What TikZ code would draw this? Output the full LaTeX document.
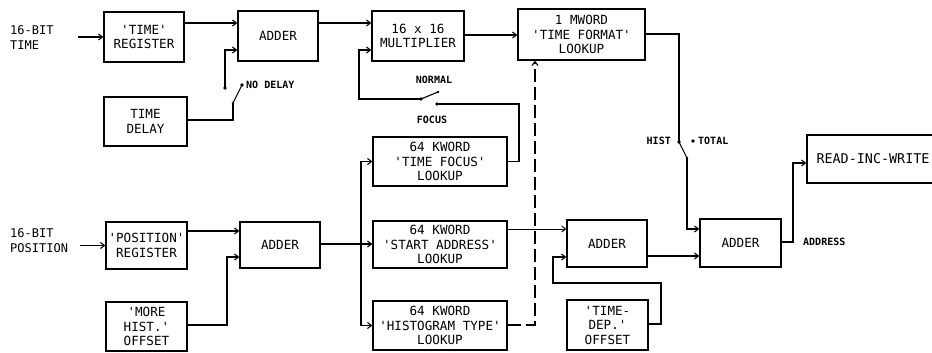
\documentclass[tikz,border=0pt]{standalone}
\usepackage{fontspec}
\newfontfamily\lett{DejaVu Sans Mono}
\usetikzlibrary{arrows.meta}
\begin{document}
\begin{tikzpicture}[x=1pt,y=-1pt,
  box/.style={draw, line width=1.3pt, inner sep=0pt, align=center, font=\lett\fontsize{12.6}{14.5}\selectfont},
  wire/.style={line width=1.1pt},
  arr/.style={wire, -{Straight Barb[length=4pt,width=6pt]}},
  lbl/.style={font=\lett\bfseries\fontsize{10}{12}\selectfont, inner sep=0pt},
  inlbl/.style={font=\lett\fontsize{12}{15}\selectfont, align=left, inner sep=0pt, anchor=west},
  dot/.style={circle, fill, inner sep=0pt, minimum size=3.6pt}]
\useasboundingbox (0,0) rectangle (932,353);

% boxes
\node[box, minimum width=80pt, minimum height=50pt] (treg) at (144,37) {'TIME'\\REGISTER};
\node[box, minimum width=80pt, minimum height=50pt] (add1) at (278,36) {ADDER};
\node[box, minimum width=83pt, minimum height=49pt] (tdel) at (145.5,121.5) {TIME\\DELAY};
\node[box, minimum width=92pt, minimum height=50pt] (mult) at (418,36) {16 x 16\\MULTIPLIER};
\node[box, minimum width=127pt, minimum height=51pt] (tfmt) at (581.5,34.5) {1 MWORD\\'TIME FORMAT'\\LOOKUP};
\node[box, minimum width=134pt, minimum height=49pt] (tfoc) at (440,161.5) {64 KWORD\\'TIME FOCUS'\\LOOKUP};
\node[box, minimum width=134pt, minimum height=47pt] (sadr) at (440,244.5) {64 KWORD\\'START ADDRESS'\\LOOKUP};
\node[box, minimum width=134pt, minimum height=49pt] (htyp) at (440,325.5) {64 KWORD\\'HISTOGRAM TYPE'\\LOOKUP};
\node[box, minimum width=81pt, minimum height=47pt] (preg) at (146.5,245.5) {'POSITION'\\REGISTER};
\node[box, minimum width=80pt, minimum height=46pt] (add2) at (280,245) {ADDER};
\node[box, minimum width=81pt, minimum height=49pt] (mhist) at (146.5,326.5) {'MORE\\HIST.'\\OFFSET};
\node[box, minimum width=80pt, minimum height=47pt] (add3) at (607,243.5) {ADDER};
\node[box, minimum width=81pt, minimum height=50pt] (tdep) at (607.5,325) {'TIME-\\DEP.'\\OFFSET};
\node[box, minimum width=81pt, minimum height=48pt] (add4) at (740.5,243) {ADDER};
\node[box, minimum width=132pt, minimum height=48pt, font=\lett\fontsize{13.4}{14.5}\selectfont] (riw) at (873,159) {READ-INC-WRITE};

% input labels
\node[inlbl] (intime) at (10,38) {16-BIT\\TIME};
\node[inlbl] (inpos) at (10,241) {16-BIT\\POSITION};
\coordinate (in1) at (78,37);
\coordinate (in2) at (80,245.5);
\draw[arr] (in1) -- (in1 -| treg.west);
\draw[arr] (in2) -- (in2 -| preg.west);

% top chain
\draw[arr] (treg.east |- 0,23) -- (add1.west |- 0,23);
\draw[arr] (add1.east |- 0,23) -- (mult.west |- 0,23);
\draw[arr] (mult.east |- 0,35) -- (tfmt.west |- 0,35);

% NO DELAY switch
\node[dot] (s1a) at (225,88) {};
\node[dot] (s1b) at (242,85) {};
\node[dot, minimum size=2.6pt] (s1p) at (233,103) {};
\node[lbl, anchor=west] (nodelay) at (246,85) {NO DELAY};
\draw[arr] (s1a.center) |- (add1.west |- 0,50);
\draw[wire] (s1p.center) -- (s1b.center);
\draw[wire] (tdel.east |- 0,120) -| (s1p.center);

% NORMAL / FOCUS switch
\node[dot] (s2p) at (421,99) {};
\node[dot, minimum size=2.6pt] (s2n) at (438,92) {};
\node[dot] (s2f) at (437,104) {};
\node[lbl] (normal) at (434,80) {NORMAL};
\node[lbl] (focus) at (432,120) {FOCUS};
\coordinate (m2) at (359,99);
\draw[wire] (s2p.center) -- (s2n.center);
\draw[arr] (s2p.center) -- (m2) |- (mult.west |- 0,50);
\coordinate (f2) at (519,104);
\draw[wire] (s2f.center) -- (f2) |- (tfoc.east);

% position chain
\draw[arr] (preg.east |- 0,231) -- (add2.west |- 0,231);
\coordinate (mh) at (227,325);
\draw[arr] (mhist.east |- mh) -- (mh) |- (add2.west |- 0,257);
\draw[arr] (add2.east |- 0,244) -- (sadr.west |- 0,244);
\coordinate (br) at (361,244);
\draw[arr] (br) |- (tfoc.west);
\draw[arr] (br) |- (htyp.west);

% start address -> adder3
\draw[arr, line width=0.9pt] (sadr.east |- 0,229) -- (add3.west |- 0,229);
% time dep offset -> adder3
\coordinate (td1) at (661,324);
\coordinate (td2) at (553,283);
\draw[arr] (tdep.east |- td1) -- (td1) |- (td2) |- (add3.west |- 0,257);

% histogram type dashed
\coordinate (hd) at (535,325);
\draw[arr, dash pattern=on 13pt off 5pt] (htyp.east |- hd) -- (hd) -- (tfmt.south -| hd);

% HIST / TOTAL switch
\coordinate (t1) at (679,34);
\node[dot] (s3h) at (679,142) {};
\node[dot] (s3t) at (693,141) {};
\node[dot, minimum size=2.6pt] (s3p) at (687,158) {};
\node[lbl, anchor=east] (hist) at (671,141) {HIST};
\node[lbl, anchor=west] (total) at (698,141) {TOTAL};
\draw[wire] (tfmt.east |- t1) -- (t1) -- (s3h.center);
\draw[wire] (s3h.center) -- (s3p.center);
\draw[arr] (s3p.center) |- (add4.west |- 0,229);

\draw[arr] (add3.east |- 0,256) -- (add4.west |- 0,256);

% address output
\coordinate (ad) at (793,242);
\node[lbl, anchor=west] (address) at (803,242) {ADDRESS};
\draw[arr] (add4.east |- ad) -- (ad) |- (riw.west |- 0,163);
\end{tikzpicture}
\end{document}
